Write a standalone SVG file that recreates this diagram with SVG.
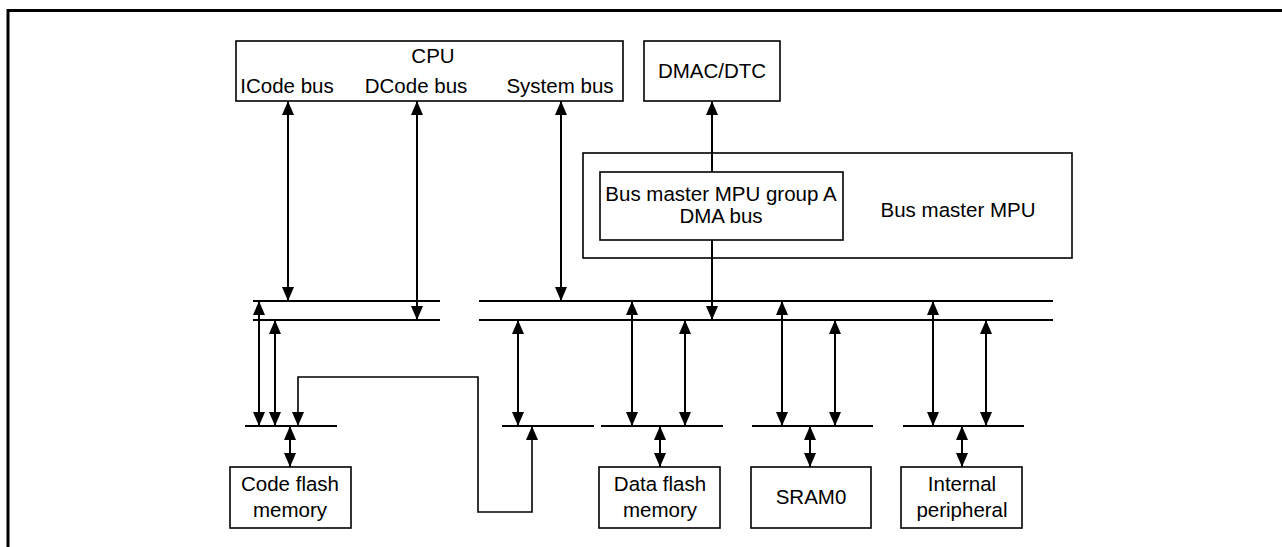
<svg xmlns="http://www.w3.org/2000/svg" width="1282" height="547" viewBox="0 0 1282 547">
<style>
  .box { fill: #fff; stroke: #000; stroke-width: 1.6; }
  .bus { fill: none; stroke: #000; stroke-width: 2; }
  .con { fill: none; stroke: #000; stroke-width: 2; }
  .thin { stroke-width: 1.6; }
  .dbl { marker-start: url(#ah); marker-end: url(#ah); }
  .end { marker-end: url(#ah); }
  text { font-family: "Liberation Sans", Arial, sans-serif; font-size: 20.5px; fill: #000; text-anchor: middle; }
</style>
<defs>
  <marker id="ah" markerUnits="userSpaceOnUse" markerWidth="14" markerHeight="12" refX="14" refY="6" orient="auto-start-reverse" viewBox="0 0 14 12">
    <path d="M0,0 L14,6 L0,12 Z" fill="#000"/>
  </marker>
</defs>
<rect width="1282" height="547" fill="#fff"/>
<path d="M8,550 V10.5 H1285" fill="none" stroke="#000" stroke-width="3"/>

<g id="cpu">
  <rect class="box" x="236" y="41" width="387" height="60"/>
  <text x="433" y="63">CPU</text>
  <text x="287" y="93">ICode bus</text>
  <text x="416" y="93">DCode bus</text>
  <text x="560" y="93">System bus</text>
</g>
<g id="dmac">
  <rect class="box" x="644" y="41" width="136" height="60"/>
  <text x="712" y="78">DMAC/DTC</text>
</g>
<g id="mpu">
  <rect class="box" x="583" y="153" width="489" height="105"/>
  <text x="958" y="217">Bus master MPU</text>
</g>
<g id="mpu-group-a">
  <rect class="box" x="600" y="172" width="243" height="68"/>
  <text x="721" y="201">Bus master MPU group A</text>
  <text x="721" y="223">DMA bus</text>
</g>
<g id="code-flash">
  <rect class="box" x="230" y="467" width="121" height="61"/>
  <text x="290" y="491">Code flash</text>
  <text x="290" y="517">memory</text>
</g>
<g id="data-flash">
  <rect class="box" x="599" y="467" width="121" height="61"/>
  <text x="660" y="491">Data flash</text>
  <text x="660" y="517">memory</text>
</g>
<g id="sram0">
  <rect class="box" x="751" y="467" width="120" height="61"/>
  <text x="811" y="504">SRAM0</text>
</g>
<g id="internal-peripheral">
  <rect class="box" x="901" y="467" width="121" height="61"/>
  <text x="962" y="491">Internal</text>
  <text x="962" y="517">peripheral</text>
</g>
<g id="buses">
  <line class="bus" x1="253" y1="301" x2="440" y2="301"/>
  <line class="bus" x1="253" y1="320" x2="440" y2="320"/>
  <line class="bus" x1="479" y1="301" x2="1053" y2="301"/>
  <line class="bus" x1="479" y1="320" x2="1053" y2="320"/>
  <line class="bus" x1="245" y1="426" x2="337" y2="426"/>
  <line class="bus" x1="502" y1="426" x2="594" y2="426"/>
  <line class="bus" x1="601" y1="426" x2="723" y2="426"/>
  <line class="bus" x1="752" y1="426" x2="873" y2="426"/>
  <line class="bus" x1="903" y1="426" x2="1024" y2="426"/>
</g>
<g id="connectors">
  <line class="con dbl" x1="288" y1="101" x2="288" y2="301"/>
  <line class="con dbl" x1="417" y1="101" x2="417" y2="320"/>
  <line class="con dbl" x1="561" y1="101" x2="561" y2="301"/>
  <line class="con end" x1="712" y1="172" x2="712" y2="101"/>
  <line class="con end" x1="712" y1="240" x2="712" y2="320"/>
  <line class="con dbl" x1="259" y1="301" x2="259" y2="426"/>
  <line class="con dbl" x1="275" y1="320" x2="275" y2="426"/>
  <line class="con dbl" x1="290" y1="426" x2="290" y2="467"/>
  <polyline class="con thin dbl" points="298,426 298,377 478,377 478,512 532,512 532,426"/>
  <line class="con dbl" x1="518" y1="320" x2="518" y2="426"/>
  <line class="con dbl" x1="632" y1="301" x2="632" y2="426"/>
  <line class="con dbl" x1="685" y1="320" x2="685" y2="426"/>
  <line class="con dbl" x1="660" y1="426" x2="660" y2="467"/>
  <line class="con dbl" x1="782" y1="301" x2="782" y2="426"/>
  <line class="con dbl" x1="835" y1="320" x2="835" y2="426"/>
  <line class="con dbl" x1="810" y1="426" x2="810" y2="467"/>
  <line class="con dbl" x1="933" y1="301" x2="933" y2="426"/>
  <line class="con dbl" x1="986" y1="320" x2="986" y2="426"/>
  <line class="con dbl" x1="962" y1="426" x2="962" y2="467"/>
</g>
</svg>
